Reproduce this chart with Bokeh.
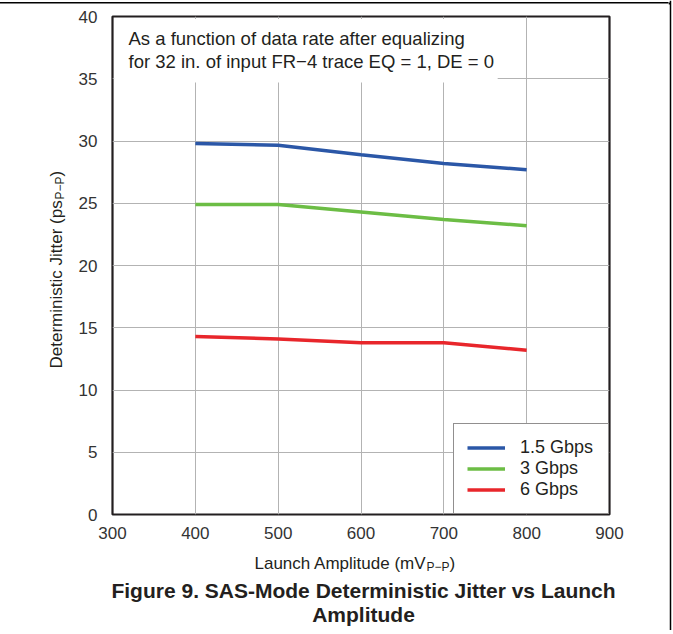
from bokeh.plotting import figure
from bokeh.models import Label, BoxAnnotation, Legend, LegendItem, FixedTicker
from bokeh.layouts import column, row
from bokeh.embed import file_html
from bokeh.resources import INLINE
import math

amplitude = [400, 500, 600, 700, 800]
jitter_1g5 = [29.8, 29.65, 28.9, 28.2, 27.7]
jitter_3g = [24.9, 24.9, 24.3, 23.7, 23.2]
jitter_6g = [14.3, 14.1, 13.8, 13.8, 13.2]
series_names = ["1.5 Gbps", "3 Gbps", "6 Gbps"]
series_colors = ["#2b57a7", "#6cbd45", "#e8262b"]
x_ticks = [300, 400, 500, 600, 700, 800, 900]
y_ticks = [0, 5, 10, 15, 20, 25, 30, 35, 40]

FONT = "Liberation Sans"
TXT = "#231f20"

# page geometry (pixels)
TOP_H = 4          # strip above the chart (the page's top rule shows through it)
LEFT_W = 75        # strip holding the rotated y title
RIGHT_W = 4        # strip holding the page's right rule
TOTAL_W = 672
MAIN_X0 = LEFT_W
MAIN_X1 = TOTAL_W - RIGHT_W
MAIN_Y1 = 545
BOTTOM_H = 85
FL, FR, FT, FB = 111, 609, 16, 514


def blank(w, h, alpha=1.0):
    f = figure(width=w, height=h, x_range=(0, w), y_range=(h, 0),
               output_backend="svg", toolbar_location=None,
               x_axis_location=None, y_axis_location=None, min_border=0)
    f.outline_line_color = None
    f.grid.visible = False
    f.background_fill_color = "white"
    f.border_fill_color = "white"
    f.background_fill_alpha = alpha
    f.border_fill_alpha = alpha
    return f


def lab(f, px, py, text, size, style="normal", align="left", angle=0.0):
    f.add_layout(Label(x=px, y=py, x_units="canvas", y_units="canvas",
                       text=text, text_font=FONT, text_font_size=size,
                       text_font_style=style, text_color=TXT,
                       text_align=align, text_baseline="middle", angle=angle))


# ---------------- main chart ----------------
p = figure(width=MAIN_X1 - MAIN_X0, height=MAIN_Y1 - TOP_H,
           x_range=(300, 900), y_range=(0, 40),
           output_backend="svg", toolbar_location=None,
           min_border_left=FL - MAIN_X0, min_border_right=MAIN_X1 - FR,
           min_border_top=FT - TOP_H, min_border_bottom=MAIN_Y1 - FB)
p.outline_line_color = "#231f20"
p.outline_line_width = 2.2
p.background_fill_color = "white"
p.border_fill_color = "white"

p.xaxis.ticker = FixedTicker(ticks=x_ticks)
p.yaxis.ticker = FixedTicker(ticks=y_ticks)
for ax in (p.xaxis, p.yaxis):
    ax.axis_line_color = None
    ax.major_tick_line_color = None
    ax.minor_tick_line_color = None
    ax.major_label_text_font = FONT
    ax.major_label_text_font_size = "17px"
    ax.major_label_text_color = "#333333"
p.xaxis.major_label_standoff = 6
p.yaxis.major_label_standoff = 9

p.xgrid.ticker = FixedTicker(ticks=x_ticks)
p.ygrid.ticker = FixedTicker(ticks=y_ticks)
p.grid.grid_line_color = "#b3b3b3"
p.grid.grid_line_width = 1

# white box behind the note text (hides the grid there)
p.add_layout(BoxAnnotation(left=302, right=765, bottom=34.7, top=39.8,
                           fill_color="white", fill_alpha=1.0, line_color=None,
                           level="underlay"))

renderers = []
for ys, c in zip([jitter_1g5, jitter_3g, jitter_6g], series_colors):
    renderers.append(p.line(amplitude, ys, line_color=c, line_width=3.5))

legend = Legend(items=[LegendItem(label=n, renderers=[r]) for n, r in zip(series_names, renderers)],
                location="bottom_right")
legend.margin = 0
legend.padding = 13
legend.spacing = 0
legend.border_line_color = "#231f20"
legend.border_line_width = 1.8
legend.background_fill_alpha = 1.0
legend.label_text_font = FONT
legend.label_text_font_size = "18px"
legend.label_text_color = TXT
legend.glyph_width = 38
legend.glyph_height = 21
legend.label_height = 21
legend.label_standoff = 15
legend.label_width = 75
p.add_layout(legend, "center")

# note inside the chart (canvas coords of the main figure)
lab(p, 128 - MAIN_X0, 38 - TOP_H, "As a function of data rate after equalizing", "18.5px")
lab(p, 128 - MAIN_X0, 61 - TOP_H, "for 32 in. of input FR\u22124 trace EQ = 1, DE = 0", "18.5px")

# ---------------- left strip: rotated y title ----------------
left = blank(LEFT_W, MAIN_Y1 - TOP_H)
lab(left, 56, 368 - TOP_H, "Deterministic Jitter (ps", "17px", angle=math.pi / 2)
lab(left, 59, 199 - TOP_H, "P\u2212P", "12px", angle=math.pi / 2)
lab(left, 56, 176 - TOP_H, ")", "17px", angle=math.pi / 2)

# ---------------- bottom strip: x title + caption ----------------
bottom = blank(MAIN_X1, BOTTOM_H)
lab(bottom, 254, 563 - MAIN_Y1, "Launch Amplitude (mV", "17px")
lab(bottom, 426, 566 - MAIN_Y1, "P\u2212P", "12px")
lab(bottom, 449, 563 - MAIN_Y1, ")", "17px")
lab(bottom, 363, 590 - MAIN_Y1, "Figure 9. SAS-Mode Deterministic Jitter vs Launch", "21px", "bold", "center")
lab(bottom, 363, 614 - MAIN_Y1, "Amplitude", "21px", "bold", "center")

# ---------------- page rules ----------------
top_strip = blank(MAIN_X1, TOP_H, alpha=0.0)
right = blank(RIGHT_W, MAIN_Y1 + BOTTOM_H)
right.add_layout(BoxAnnotation(left=1.25, right=2.75, top=0, bottom=MAIN_Y1 + BOTTOM_H,
                               fill_color="black", fill_alpha=1.0, line_color=None))
right.add_layout(BoxAnnotation(left=0, right=2, top=2, bottom=4,
                               fill_color="black", fill_alpha=1.0, line_color=None))

layout = row(column(top_strip, row(left, p), bottom), right,
             styles={"background-color": "white",
                     "background-image": "linear-gradient(black, black)",
                     "background-size": "670px 1.5px",
                     "background-position": "0px 2.25px",
                     "background-repeat": "no-repeat"})

open("out.html", "w").write(file_html(layout, INLINE))
